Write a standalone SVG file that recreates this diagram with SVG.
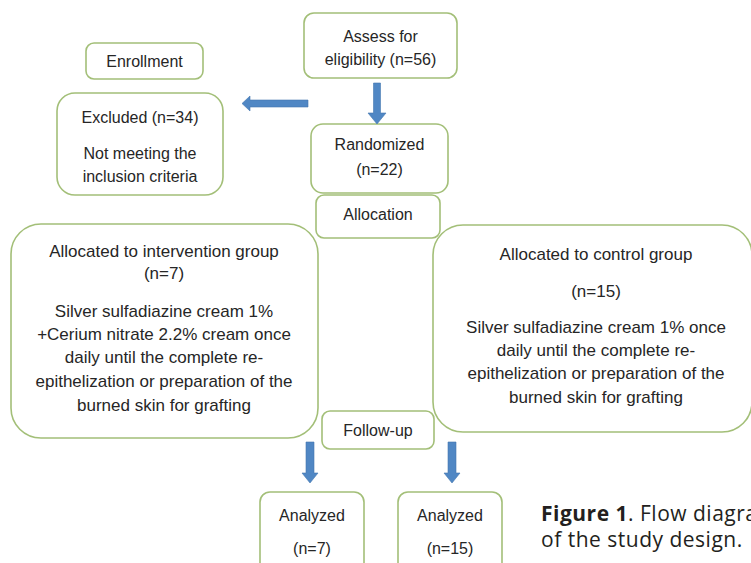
<svg xmlns="http://www.w3.org/2000/svg" width="751" height="563" viewBox="0 0 751 563">
<style>
.box{fill:#fff;stroke:#a3bf78;stroke-width:1.6}
.t{font-family:"Liberation Sans",Arial,sans-serif;font-size:16px;fill:#262626;text-anchor:middle}
.tb{font-family:"Liberation Sans",Arial,sans-serif;font-size:17px;fill:#262626;text-anchor:middle}
.arr{fill:#5087c4;stroke:#4577b0;stroke-width:0.6}
.cap{font-family:"Open Sans","Liberation Sans",sans-serif;font-size:21px;letter-spacing:0.5px;fill:#231f20}
</style>
<rect width="751" height="563" fill="#fff"/>
<g id="assess"><rect class="box" x="304" y="13" width="153" height="65" rx="10"/><text class="t" x="380.5" y="42">Assess for</text><text class="t" x="380.5" y="65">eligibility (n=56)</text></g>
<g id="enrollment"><rect class="box" x="86" y="43" width="117" height="36" rx="8"/><text class="t" x="144.5" y="67">Enrollment</text></g>
<g id="excluded"><rect class="box" x="57" y="93" width="166" height="102" rx="18"/><text class="t" x="140" y="123">Excluded (n=34)</text><text class="t" x="140" y="159">Not meeting the</text><text class="t" x="140" y="182">inclusion criteria</text></g>
<g id="randomized"><rect class="box" x="311" y="124" width="137" height="69" rx="12"/><text class="t" x="379.5" y="150">Randomized</text><text class="t" x="379.5" y="175">(n=22)</text></g>
<g id="allocation"><rect class="box" x="316" y="195" width="124" height="43" rx="8"/><text class="t" x="378" y="220">Allocation</text></g>
<g id="intervention"><rect class="box" x="11" y="224" width="307" height="214" rx="30"/>
<text class="tb" x="164" y="257">Allocated to intervention group</text>
<text class="tb" x="164" y="279">(n=7)</text>
<text class="tb" x="164" y="317">Silver sulfadiazine cream 1%</text>
<text class="tb" x="164" y="340">+Cerium nitrate 2.2% cream once</text>
<text class="tb" x="164" y="363">daily until the complete re-</text>
<text class="tb" x="164" y="387">epithelization or preparation of the</text>
<text class="tb" x="164" y="411">burned skin for grafting</text></g>
<g id="control"><rect class="box" x="433" y="225" width="319" height="207" rx="30"/>
<text class="tb" x="596" y="260">Allocated to control group</text>
<text class="tb" x="596" y="297">(n=15)</text>
<text class="tb" x="596" y="333">Silver sulfadiazine cream 1% once</text>
<text class="tb" x="596" y="356">daily until the complete re-</text>
<text class="tb" x="596" y="379">epithelization or preparation of the</text>
<text class="tb" x="596" y="403">burned skin for grafting</text></g>
<g id="followup"><rect class="box" x="322" y="411" width="112" height="38" rx="8"/><text class="t" x="378" y="436">Follow-up</text></g>
<g id="analyzed1"><rect class="box" x="260" y="492" width="104" height="90" rx="10"/><text class="t" x="312" y="521">Analyzed</text><text class="t" x="312" y="554">(n=7)</text></g>
<g id="analyzed2"><rect class="box" x="398" y="492" width="104" height="90" rx="10"/><text class="t" x="450" y="521">Analyzed</text><text class="t" x="450" y="554">(n=15)</text></g>
<g id="connectors">
<polygon class="arr" points="308,100 250,100 250,96 242,103.5 250,111 250,107 308,107"/>
<polygon class="arr" points="373.5,83 380.5,83 380.5,113 386,113 377,124 368,113 373.5,113"/>
<polygon class="arr" points="306,442 314,442 314,473 318,473 310,483 302,473 306,473"/>
<polygon class="arr" points="448,442 456,442 456,473 460,473 452,483 444,473 448,473"/>
</g>
<g id="caption"><text class="cap" x="541" y="521"><tspan font-weight="bold">Figure 1</tspan>. Flow diagram</text><text class="cap" x="541" y="547">of the study design.</text></g>
</svg>
